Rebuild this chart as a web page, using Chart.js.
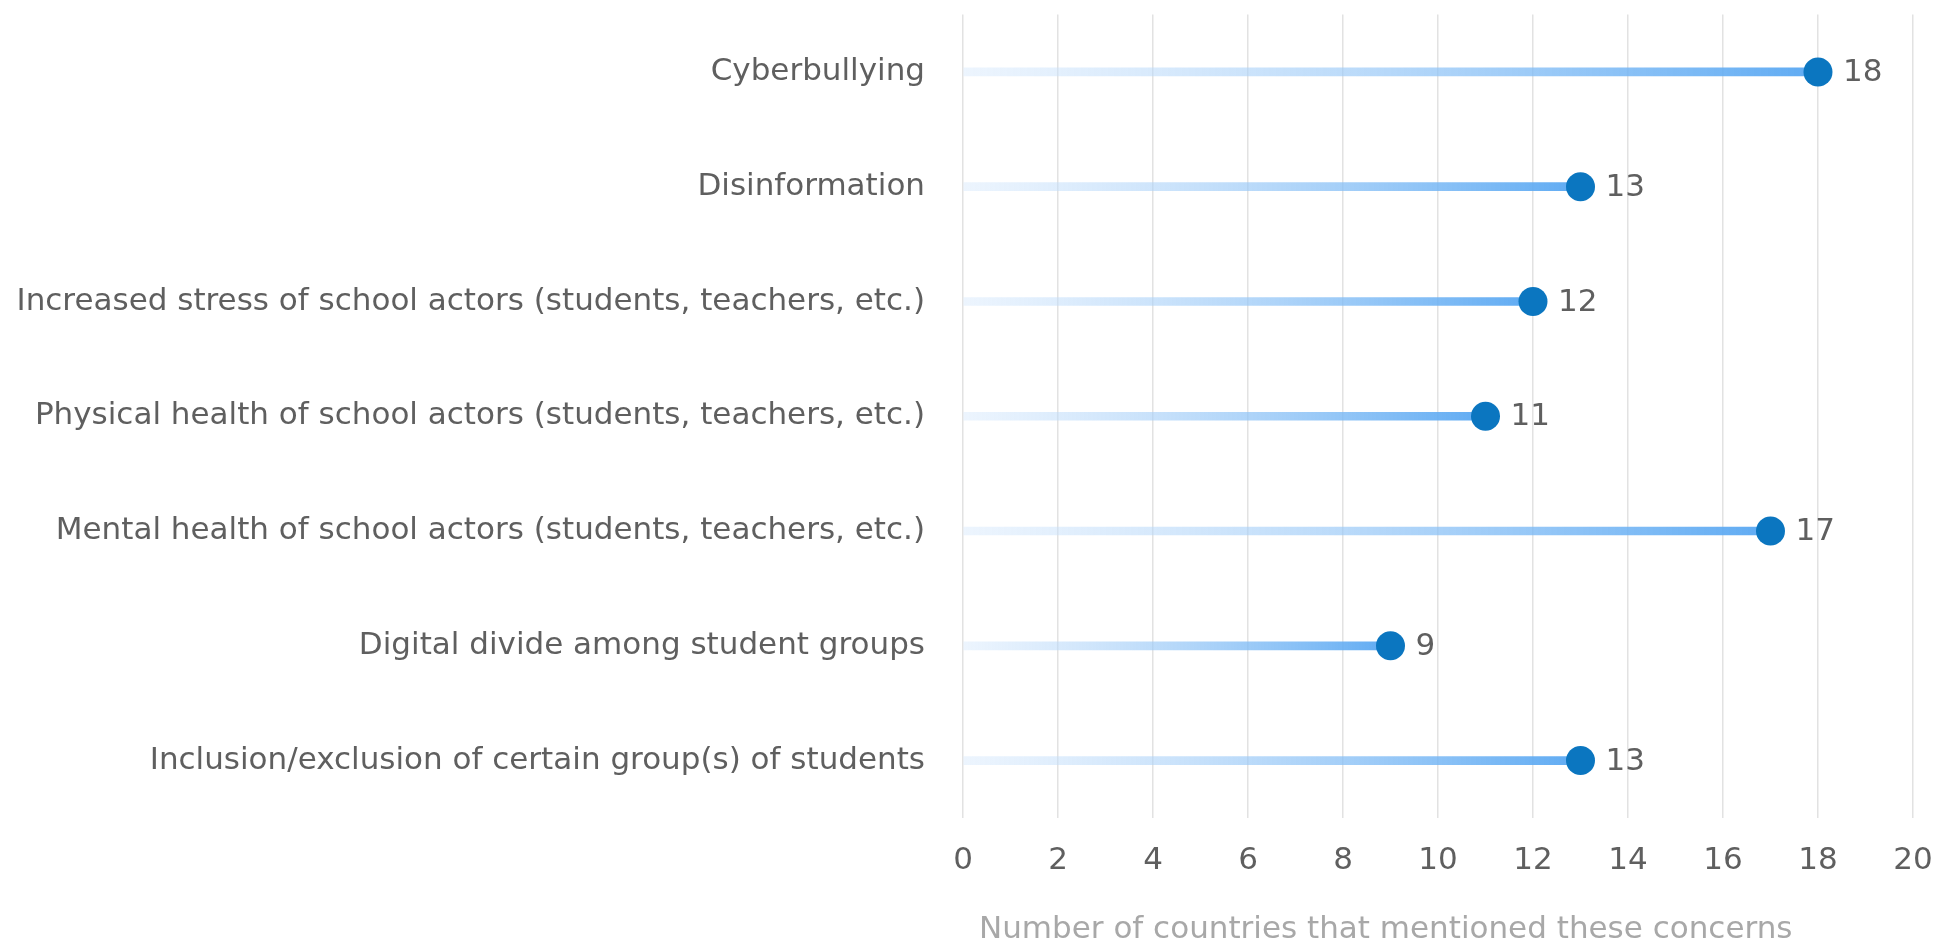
<!DOCTYPE html>
<html>
<head>
<meta charset="utf-8">
<script src="https://cdn.jsdelivr.net/npm/chart.js@4.4.1/dist/chart.umd.min.js"></script>
<style>
  html, body { margin: 0; padding: 0; background: #fff; }
  #wrap { width: 1941px; height: 949px; position: relative; }
</style>
</head>
<body>
<div id="wrap"><canvas id="chart"></canvas></div>
<script>
// --- Data ---
const concerns = [
    'Cyberbullying',
    'Disinformation',
    'Increased stress of school actors (students, teachers, etc.)',
    'Physical health of school actors (students, teachers, etc.)',
    'Mental health of school actors (students, teachers, etc.)',
    'Digital divide among student groups',
    'Inclusion/exclusion of certain group(s) of students'
];
const countries = [18, 13, 12, 11, 17, 9, 13];
const axisMin = 0, axisMax = 20, axisStep = 2;
const axisTitle = 'Number of countries that mentioned these concerns';

const FONT = "'DejaVu Sans', sans-serif";
const TEXT = '#5f5f5f';

// gradient per stem: faint at zero, stronger at the value
const stemColor = (ctx) => {
    const chart = ctx.chart;
    if (!chart.chartArea) return '#9cc8f2';
    const xs = chart.scales.x;
    const x0 = xs.getPixelForValue(0), x1 = xs.getPixelForValue(ctx.raw);
    const g = chart.ctx.createLinearGradient(x0, 0, x1, 0);
    g.addColorStop(0, 'rgba(214, 232, 252, 0.45)');
    g.addColorStop(1, 'rgba(86, 166, 242, 0.95)');
    return g;
};

// value labels next to the dots + axis title
const extraText = {
    id: 'extraText',
    afterDatasetsDraw(chart) {
        const meta = chart.getDatasetMeta(1);
        const c = chart.ctx;
        c.save();
        c.font = `31px ${FONT}`;
        c.fillStyle = TEXT;
        c.textAlign = 'left';
        c.textBaseline = 'middle';
        meta.data.forEach((pt, i) => {
            c.fillText(String(countries[i]), pt.x + 25, pt.y + 1);
        });
        c.fillStyle = '#a8a8a8';
        c.fillText(axisTitle, chart.scales.x.left + 16, 930);
        c.restore();
    }
};

new Chart(document.getElementById('chart').getContext('2d'), {
    data: {
        labels: concerns,
        datasets: [
            { type: 'bar', order: 2, data: countries, backgroundColor: stemColor, barThickness: 8, borderWidth: 0 },
            { type: 'line', order: 1, data: countries, showLine: false, pointRadius: 14.5, pointHoverRadius: 14.5,
              pointBackgroundColor: '#0B76C0', pointBorderWidth: 0, clip: false }
        ]
    },
    options: {
        indexAxis: 'y',
        responsive: true,
        maintainAspectRatio: false,
        animation: false,
        layout: { padding: { left: 0, right: 28, top: 9, bottom: 0 } },
        plugins: { legend: { display: false }, tooltip: { enabled: false } },
        scales: {
            x: {
                min: axisMin, max: axisMax,
                ticks: { stepSize: axisStep, color: TEXT, font: { family: FONT, size: 31 }, padding: 0 },
                grid: { color: '#e2e2e2', lineWidth: 1.5, drawTicks: true, tickLength: 24, tickColor: 'rgba(0,0,0,0)' },
                border: { display: false },
                afterFit: (s) => { s.height = 131; }
            },
            y: {
                ticks: { color: TEXT, font: { family: FONT, size: 31, lineHeight: 0.5 }, padding: 0 },
                grid: { display: false, drawTicks: true, tickLength: 38 },
                border: { display: false },
                afterFit: (s) => { s.width = 963; }
            }
        }
    },
    plugins: [extraText]
});
</script>
</body>
</html>
